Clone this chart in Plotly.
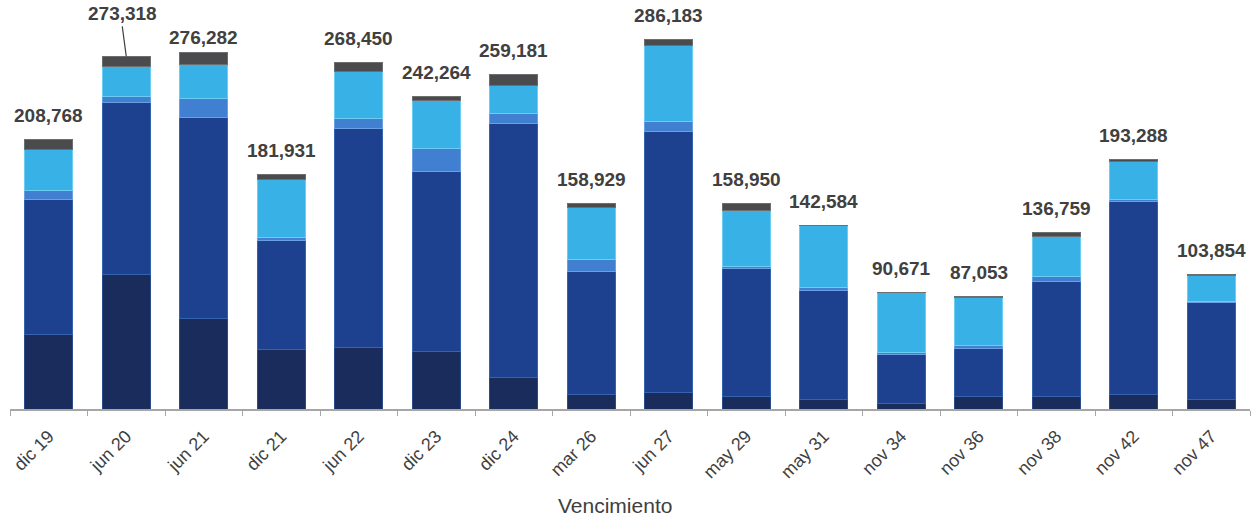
import plotly.graph_objects as go

categories = ["dic 19", "jun 20", "jun 21", "dic 21", "jun 22", "dic 23", "dic 24", "mar 26",
              "jun 27", "may 29", "may 31", "nov 34", "nov 36", "nov 38", "nov 42", "nov 47"]

totals = [208768, 273318, 276282, 181931, 268450, 242264, 259181, 158929,
          286183, 158950, 142584, 90671, 87053, 136759, 193288, 103854]

seg_darkest = [58000, 104400, 70300, 45800, 47500, 44500, 24300, 10900,
               12700, 9600, 7100, 4000, 9600, 9600, 10900, 7500]
seg_dark = [104000, 133500, 156000, 84800, 170000, 139500, 197000, 95800,
            202500, 99300, 84500, 38200, 37500, 89300, 149800, 74800]
seg_medium = [7000, 4400, 14000, 2400, 7800, 18200, 7700, 9000,
              8000, 1500, 2300, 1500, 2500, 3900, 1500, 1000]
seg_cyan = [32500, 23000, 27000, 44500, 36000, 37000, 21700, 40700,
            58200, 43700, 48100, 46300, 36600, 30800, 29600, 19800]
seg_gray = [7268, 8018, 8982, 4431, 7150, 3064, 8481, 2529,
            4783, 4850, 584, 671, 853, 3159, 1488, 754]

series = [
    (seg_darkest, "#1a2c5b", "#2b4a8a"),
    (seg_dark, "#1d418f", "#3563b0"),
    (seg_medium, "#4180d0", "#6aa0e2"),
    (seg_cyan, "#38b2e6", "#6ccdf2"),
    (seg_gray, "#4b4b4d", "#6e6e70"),
]

fig = go.Figure()
for vals, col, edge in series:
    fig.add_trace(go.Bar(
        x=categories, y=vals,
        marker=dict(color=col, line=dict(color=edge, width=1)),
        hoverinfo="x+y", showlegend=False,
    ))

label_font = dict(family="Liberation Sans, Arial", size=19, color="#404040")
annotations = []
for c, t in zip(categories, totals):
    txt = f"<b>{t:,}</b>"
    if c == "jun 20":
        annotations.append(dict(x=c, y=t, text=txt, showarrow=True, arrowhead=0,
                                arrowwidth=1.2, arrowcolor="#404040", ax=-4, ay=-30,
                                font=label_font, xanchor="center", yanchor="bottom"))
    else:
        shift = 15 if c == "jun 21" else 24
        annotations.append(dict(x=c, y=t, text=txt, showarrow=False,
                                yshift=shift, yanchor="middle", font=label_font))

annotations.append(dict(x=0.4875, y=0, xref="paper", yref="paper", text="Vencimiento",
                        showarrow=False, yshift=-96, yanchor="middle",
                        font=dict(family="Liberation Sans, Arial", size=21, color="#404040")))

fig.update_layout(
    barmode="stack",
    bargap=0.385,
    width=1260, height=519,
    margin=dict(l=10, r=10, t=10, b=110),
    plot_bgcolor="white", paper_bgcolor="white",
    annotations=annotations,
    xaxis=dict(
        tickangle=-45, tickson="boundaries", ticks="outside", ticklen=5,
        tickcolor="#a6a6a6", showline=True, linecolor="#a6a6a6", linewidth=1.5,
        tickfont=dict(family="Liberation Sans, Arial", size=18, color="#404040"),
        ticklabelstandoff=8,
        showgrid=False,
    ),
    yaxis=dict(range=[0, 309225], visible=False, showgrid=False, zeroline=False),
)

fig.write_html("out.html", config={"displayModeBar": False},
               post_script="document.body.style.margin='0';")
